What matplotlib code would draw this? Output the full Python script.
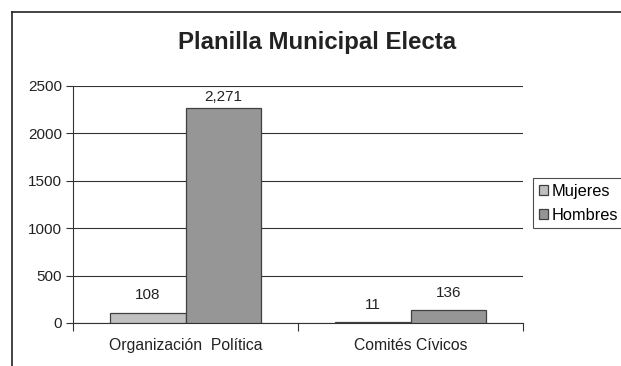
import matplotlib
matplotlib.use("Agg")
import matplotlib.pyplot as plt
from matplotlib.lines import Line2D
import numpy as np

categories = ["Organización  Política", "Comités Cívicos"]
series_names = ["Mujeres", "Hombres"]
mujeres = [108, 11]
hombres = [2271, 136]
value_labels_mujeres = ["108", "11"]
value_labels_hombres = ["2,271", "136"]
yticks = [0, 500, 1000, 1500, 2000, 2500]

plt.rcParams["font.family"] = ["Liberation Sans", "DejaVu Sans"]

W, H = 621, 366
fig = plt.figure(figsize=(W / 100, H / 100), dpi=100)
fig.patch.set_facecolor("white")

# plot area in pixel terms
left, right, top, bottom = 73, 523, 86, 323
ax = fig.add_axes([left / W, 1 - bottom / H, (right - left) / W, (bottom - top) / H])

x = np.arange(len(categories))
bw = 0.335
edge = "#404040"
b1 = ax.bar(x - bw / 2, mujeres, bw, color="#c0c0c0", edgecolor=edge, linewidth=0.9, label=series_names[0], zorder=3)
b2 = ax.bar(x + bw / 2, hombres, bw, color="#969696", edgecolor=edge, linewidth=0.9, label=series_names[1], zorder=3)


def label_bars(bars, texts, offsets):
    for rect, txt, off in zip(bars, texts, offsets):
        ax.annotate(txt, (rect.get_x() + rect.get_width() / 2, rect.get_height()),
                    xytext=(0, off), textcoords="offset points", ha="center", va="center",
                    fontsize=11, color="#222222")


label_bars(b1, value_labels_mujeres, [12.5, 12.5])
label_bars(b2, value_labels_hombres, [7.5, 12.5])

ax.set_xlim(-0.5, len(categories) - 0.5)
ax.set_ylim(0, 2500)
ax.set_yticks(yticks)
ax.set_yticklabels([str(v) for v in yticks], fontsize=11, color="#222222")
ax.yaxis.grid(True, color="#333333", linewidth=0.8, zorder=0)
ax.set_axisbelow(True)

# category labels centred, ticks between categories
ax.set_xticks(x)
ax.set_xticklabels(categories, fontsize=11.3, color="#222222")
ax.tick_params(axis="x", length=0, pad=11)
ax.set_xticks(np.arange(-0.5, len(categories)), minor=True)
ax.tick_params(axis="x", which="minor", length=6, width=0.8, color="#333333", direction="out")
ax.tick_params(axis="y", length=5, width=0.8, color="#333333", direction="out", pad=3)

for s in ["top", "right"]:
    ax.spines[s].set_visible(False)
ax.spines["left"].set_color("#333333")
ax.spines["bottom"].set_color("#333333")
ax.spines["left"].set_linewidth(0.8)
ax.spines["bottom"].set_linewidth(0.8)

fig.text(317 / W, 1 - 42 / H, "Planilla Municipal Electa", ha="center", va="center",
         fontsize=17.3, fontweight="bold", color="#222222")

leg = fig.legend(handles=[b1, b2], labels=series_names, loc="upper left",
                 bbox_to_anchor=(533 / W, 1 - 178 / H), fontsize=11.8,
                 frameon=True, fancybox=False, edgecolor="#222222",
                 handlelength=0.55, handleheight=0.55, handletextpad=0.25,
                 borderpad=0.35, borderaxespad=0, labelspacing=0.55)
leg.get_frame().set_linewidth(0.8)

# outer chart border
fig.add_artist(Line2D([12 / W, 12 / W], [0, 1 - 12 / H], color="#222222", linewidth=1.2, transform=fig.transFigure))
fig.add_artist(Line2D([12 / W, 1], [1 - 12 / H, 1 - 12 / H], color="#222222", linewidth=1.2, transform=fig.transFigure))

fig.savefig("out.png", dpi=100)
